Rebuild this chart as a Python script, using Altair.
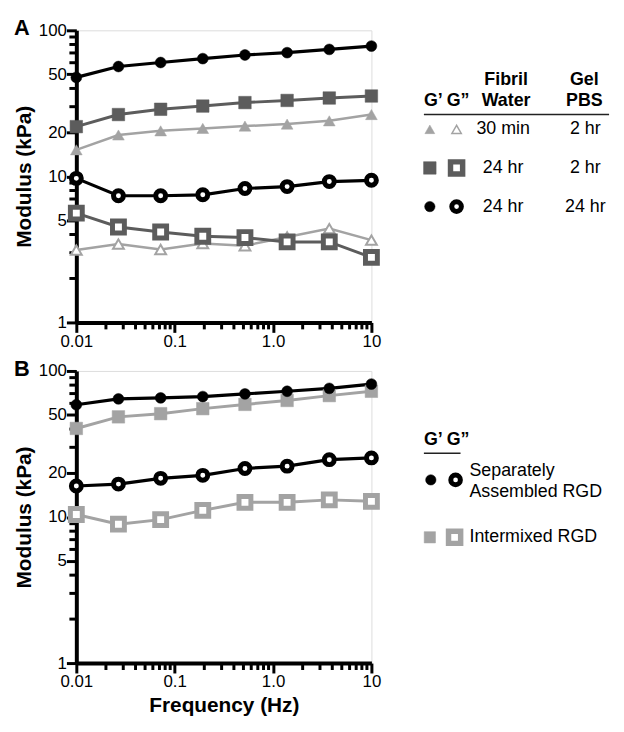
import altair as alt
import pandas as pd

FONT = "Liberation Sans"

# ---- data ----
freq = [0.01, 0.0268, 0.0720, 0.193, 0.518, 1.39, 3.73, 10]

# Panel A
a_30min_gp = [15.2, 19.2, 20.5, 21.3, 22.1, 22.8, 24.0, 26.5]
a_30min_gpp = [3.13, 3.44, 3.16, 3.47, 3.35, 3.85, 4.39, 3.66]
a_24h2h_gp = [21.9, 26.5, 28.8, 30.3, 32.0, 33.1, 34.4, 35.5]
a_24h2h_gpp = [5.60, 4.50, 4.16, 3.89, 3.81, 3.56, 3.56, 2.79]
a_24h24h_gp = [47.6, 56.5, 60.2, 64.0, 67.8, 70.3, 74.0, 78.0]
a_24h24h_gpp = [9.69, 7.37, 7.37, 7.48, 8.26, 8.51, 9.21, 9.40]

# Panel B
b_sep_gp = [58.7, 64.4, 65.4, 66.8, 69.6, 72.6, 76.0, 81.3]
b_sep_gpp = [16.3, 16.8, 18.4, 19.3, 21.5, 22.3, 24.7, 25.4]
b_mix_gp = [40.4, 48.5, 51.0, 55.2, 59.0, 62.8, 67.8, 72.6]
b_mix_gpp = [10.4, 8.93, 9.60, 11.1, 12.6, 12.6, 13.1, 12.8]

# tick positions
x_major = [0.01, 0.1, 1.0, 10.0]
x_minor = [round(k * 0.01, 2) for k in range(2, 10)] + [round(k * 0.1, 1) for k in range(2, 10)] + [float(k) for k in range(2, 10)]
y_major = [1.0, 5.0, 10.0, 20.0, 50.0, 100.0]
y_minor = [2.0, 3.0, 4.0, 6.0, 7.0, 8.0, 9.0, 30.0, 40.0, 60.0, 70.0, 80.0, 90.0]

BLACK = "#000000"
DARK = "#5c5c5c"
LIGHT = "#a3a3a3"

W, H = 298, 295

xscale = alt.Scale(type="log", domain=[0.01, 10], nice=False)
yscale = alt.Scale(type="log", domain=[1, 100], nice=False)

common_axis = dict(
    labelOverlap=False,
    labelFlush=False,
    tickSize=10,
    tickWidth=3,
    tickColor="black",
    grid=False,
    domainWidth=4,
    domainColor="black",
    labelFont=FONT,
    labelFontSize=17,
    labelColor="black",
    titleFont=FONT,
    titleFontSize=21,
    titleFontWeight="bold",
    titleColor="black",
)


def x_axis(title):
    kw = dict(common_axis)
    kw.update(
        values=x_major,
        labelExpr="datum.value == 0.01 ? '0.01' : datum.value == 0.1 ? '0.1' : datum.value == 1 ? '1.0' : '10'",
        labelPadding=1,
    )
    if title:
        kw["title"] = title
        kw["titlePadding"] = 5
    else:
        kw["title"] = None
    return alt.Axis(**kw)


y_kw = dict(common_axis)
y_kw.update(values=y_major, format="d", labelPadding=0, title="Modulus (kPa)", titlePadding=4)
y_axis = alt.Axis(**y_kw)

one = pd.DataFrame({"k": [0]})


def series_layers(vals, color, shape, filled, size, sw, lw, xtitle):
    df = pd.DataFrame({"Frequency": freq, "Modulus": vals})
    base = alt.Chart(df).encode(
        x=alt.X("Frequency:Q", scale=xscale, axis=x_axis(xtitle)),
        y=alt.Y("Modulus:Q", scale=yscale, axis=y_axis),
    )
    line = base.mark_line(color=color, strokeWidth=lw)
    if filled:
        pts = base.mark_point(shape=shape, filled=True, fill=color, stroke=color, strokeWidth=0.5, size=size, opacity=1)
    else:
        pts = base.mark_point(shape=shape, filled=True, fill="white", stroke=color, strokeWidth=sw, size=size, opacity=1)
    return line, pts


def minor_tick_layers():
    tx = alt.Chart(pd.DataFrame({"Frequency": x_minor})).mark_rule(color="black", strokeWidth=3).encode(
        x=alt.X("Frequency:Q", scale=xscale), y=alt.value(H), y2=alt.value(H + 7))
    ty = alt.Chart(pd.DataFrame({"Modulus": y_minor})).mark_rule(color="black", strokeWidth=3).encode(
        y=alt.Y("Modulus:Q", scale=yscale), x=alt.value(-7), x2=alt.value(0))
    return [tx, ty]


def text_layer(s, x, y, bold=False, align="center", size=18):
    return alt.Chart(one).mark_text(
        text=s, align=align, baseline="middle", font=FONT, fontSize=size,
        fontWeight="bold" if bold else "normal", color="black",
    ).encode(x=alt.value(x), y=alt.value(y))


def sym_layer(shape, x, y, color, filled, size, sw):
    if filled:
        m = alt.Chart(one).mark_point(shape=shape, filled=True, fill=color, stroke=color, strokeWidth=0.5, size=size, opacity=1)
    else:
        m = alt.Chart(one).mark_point(shape=shape, filled=True, fill="white", stroke=color, strokeWidth=sw, size=size, opacity=1)
    return m.encode(x=alt.value(x), y=alt.value(y))


def rule_layer(x1, x2, y):
    return alt.Chart(one).mark_rule(color="#222222", strokeWidth=1.5).encode(
        x=alt.value(x1), x2=alt.value(x2), y=alt.value(y))


def build_panel(specs, legend, letter, xtitle):
    lines, pts = [], []
    for sp in specs:
        l, p = series_layers(*sp, xtitle)
        lines.append(l)
        pts.append(p)
    letter_layer = text_layer(letter, -63, -2, bold=True, align="left", size=22)
    return alt.layer(*lines, *minor_tick_layers(), *pts, *legend, letter_layer).properties(width=W, height=H)


TRI, SQ, CIR = "triangle-up", "square", "circle"

specs_a = [
    (a_30min_gp, LIGHT, TRI, True, 140, 0, 2.5),
    (a_30min_gpp, LIGHT, TRI, False, 120, 2, 2.5),
    (a_24h2h_gp, DARK, SQ, True, 160, 0, 3),
    (a_24h2h_gpp, DARK, SQ, False, 144, 5, 3),
    (a_24h24h_gp, BLACK, CIR, True, 120, 0, 3.2),
    (a_24h24h_gpp, BLACK, CIR, False, 100, 5, 3.2),
]

legend_a = [
    text_layer("Fibril", 434, 50, bold=True),
    text_layer("Water", 434, 71, bold=True),
    text_layer("Gel", 513, 50, bold=True),
    text_layer("PBS", 513, 71, bold=True),
    text_layer("G\u2019 G\u201d", 351, 71, bold=True, align="left"),
    rule_layer(351, 538, 85),
    sym_layer(TRI, 357, 100, LIGHT, True, 100, 0),
    sym_layer(TRI, 384, 100, LIGHT, False, 90, 1.5),
    text_layer("30 min", 431, 100),
    text_layer("2 hr", 514, 100),
    sym_layer(SQ, 357, 139, DARK, True, 160, 0),
    sym_layer(SQ, 384, 139, DARK, False, 150, 5.5),
    text_layer("24 hr", 431, 139),
    text_layer("2 hr", 514, 139),
    sym_layer(CIR, 357, 178, BLACK, True, 110, 0),
    sym_layer(CIR, 384, 178, BLACK, False, 95, 5),
    text_layer("24 hr", 431, 178),
    text_layer("24 hr", 514, 178),
]

specs_b = [
    (b_mix_gp, LIGHT, SQ, True, 160, 0, 3),
    (b_mix_gpp, LIGHT, SQ, False, 144, 5, 3),
    (b_sep_gp, BLACK, CIR, True, 120, 0, 3.2),
    (b_sep_gpp, BLACK, CIR, False, 100, 5, 3.2),
]

legend_b = [
    text_layer("G\u2019 G\u201d", 351, 70, bold=True, align="left"),
    rule_layer(351, 388, 83),
    sym_layer(CIR, 358, 110, BLACK, True, 110, 0),
    sym_layer(CIR, 383, 110, BLACK, False, 95, 5),
    text_layer("Separately", 397, 101, align="left"),
    text_layer("Assembled RGD", 397, 122, align="left"),
    sym_layer(SQ, 357, 168, LIGHT, True, 130, 0),
    sym_layer(SQ, 382, 168, LIGHT, False, 150, 5.5),
    text_layer("Intermixed RGD", 397, 168, align="left"),
]

panel_a = build_panel(specs_a, legend_a, "A", None)
panel_b = build_panel(specs_b, legend_b, "B", "Frequency (Hz)")

chart = alt.vconcat(panel_a, panel_b, spacing=7)

chart.save("out.html", embed_options={"renderer": "svg", "actions": False})
